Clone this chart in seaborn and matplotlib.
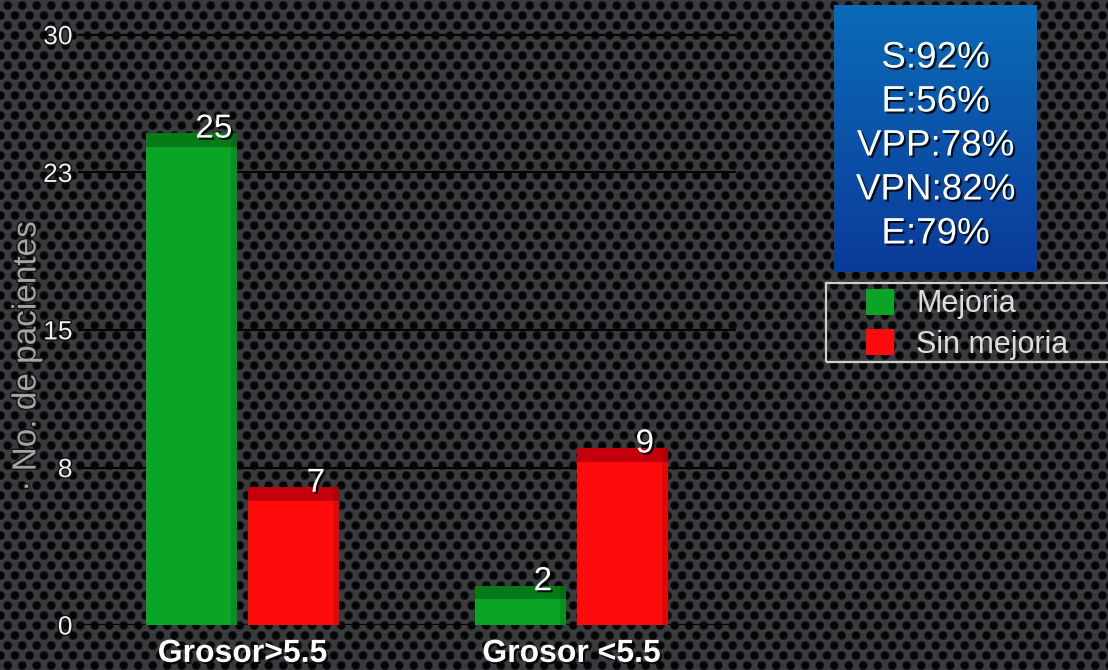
import numpy as np
import pandas as pd
import matplotlib
matplotlib.use("Agg")
import matplotlib.pyplot as plt
import matplotlib.patheffects as pe
from matplotlib.patches import Rectangle
import seaborn as sns

# ---- data -------------------------------------------------------------
categorias = ["Grosor>5.5", "Grosor <5.5"]
grupos = ["Mejoria", "Sin mejoria"]
mejoria = [25, 2]
sin_mejoria = [7, 9]
ticks_y = [0, 8, 15, 23, 30]
indicadores = ["S:92%", "E:56%", "VPP:78%", "VPN:82%", "E:79%"]

colores = {"Mejoria": "#0aa524", "Sin mejoria": "#ff0b0b"}
colores_tapa = {"Mejoria": "#077a18", "Sin mejoria": "#c4000c"}

df = pd.DataFrame({
    "grupo_grosor": categorias * 2,
    "evolucion": [grupos[0]] * len(categorias) + [grupos[1]] * len(categorias),
    "pacientes": mejoria + sin_mejoria,
})

sns.set_theme(style="dark")
plt.rcParams["font.family"] = ["Liberation Sans", "DejaVu Sans"]

W, H = 1108, 670
fig = plt.figure(figsize=(W / 100, H / 100), dpi=100)
fig.patch.set_facecolor("#2c2e32")

# ---- perforated metal backdrop ---------------------------------------
yy, xx = np.mgrid[0:H, 0:W].astype(float)
sx, sy = 14.5, 10.0
fila = np.floor(yy / sy)
cx = (xx - (fila % 2) * sx / 2) % sx - sx / 2
cy = yy % sy - sy / 2
dist = np.hypot(cx, cy)
mezcla = np.clip((dist - 3.3) / 1.8, 0, 1)
fondo = np.array([0.225, 0.232, 0.245])
hueco = np.array([0.02, 0.02, 0.025])
img = hueco[None, None, :] * (1 - mezcla[..., None]) + fondo[None, None, :] * mezcla[..., None]
fig.figimage(img, xo=0, yo=0, origin="upper", zorder=-10)

# ---- bars -------------------------------------------------------------
ax = fig.add_axes([78 / W, 1 - 625 / H, (736 - 78) / W, (625 - 15) / H])
ax.set_facecolor("none")
sns.barplot(data=df, x="grupo_grosor", y="pacientes", hue="evolucion",
            hue_order=grupos, order=categorias, palette=colores,
            width=0.62, gap=0.1, saturation=1, linewidth=0,
            edgecolor="none", ax=ax, zorder=3)

ax.set_xlim(-0.5, 1.5)
ax.set_ylim(0, 31)
ax.set_yticks(ticks_y)
ax.set_yticklabels([str(t) for t in ticks_y])
ax.yaxis.grid(True, color="#050505", linewidth=1.6)
ax.xaxis.grid(False)
ax.set_axisbelow(True)
for s in ax.spines.values():
    s.set_visible(False)
ax.tick_params(axis="both", length=0)
ax.tick_params(axis="y", pad=4, labelsize=19, labelcolor="#eeeeee")
ax.tick_params(axis="x", pad=10, labelsize=23, labelcolor="white")
for lab in ax.get_xticklabels():
    lab.set_fontweight("bold")
    lab.set_path_effects([pe.withSimplePatchShadow(offset=(1.5, -1.5), shadow_rgbFace="black", alpha=0.8)])
for lab in ax.get_yticklabels():
    lab.set_path_effects([pe.withStroke(linewidth=2, foreground="#111111")])
ax.set_xlabel("")
ax.set_ylabel("· No. de pacientes", fontsize=24, color="#a4a4a4")
ax.yaxis.set_label_coords(-0.054, 0.44)
ax.yaxis.label.set_path_effects([pe.withStroke(linewidth=2, foreground="#151515")])

sombra = [pe.withSimplePatchShadow(offset=(1.5, -1.5), shadow_rgbFace="black", alpha=0.9)]
for cont, grupo in zip(ax.containers, grupos):
    for barra, valor in zip(cont.patches, cont.datavalues):
        x0, w = barra.get_x(), barra.get_width()
        # darker top face for a raised look
        ax.add_patch(Rectangle((x0, valor - 0.7), w, 0.7, facecolor=colores_tapa[grupo],
                               edgecolor="none", zorder=4))
        ax.add_patch(Rectangle((x0 + w * 0.93, 0), w * 0.07, valor, facecolor="black",
                               alpha=0.12, edgecolor="none", zorder=4))
        ax.text(x0 + w / 2 + 0.068, valor + 0.2, f"{valor:g}", ha="center", va="center",
                fontsize=24, color="white", zorder=6, path_effects=sombra)

leg = ax.get_legend()
if leg is not None:
    leg.remove()

# ---- legend -----------------------------------------------------------
handles = [Rectangle((0, 0), 1, 1, facecolor=colores[g], edgecolor="none") for g in grupos]
legend = fig.legend(handles, grupos, loc="upper left",
                    bbox_to_anchor=(866 / W, 1 - 289 / H), bbox_transform=fig.transFigure,
                    frameon=False, fontsize=22, handlelength=0.92, handleheight=0.92,
                    handletextpad=0.72, labelspacing=0.32, borderpad=0.0,
                    borderaxespad=0.0)
for t in legend.get_texts():
    t.set_color("#dcdcdc")
fig.patches.append(Rectangle((826 / W, 1 - 362 / H), (W + 10 - 826) / W, 79 / H,
                             transform=fig.transFigure, fill=False,
                             edgecolor="#cfcfcf", linewidth=1.6, zorder=5))

# ---- indicator panel ----------------------------------------------------
panel = fig.add_axes([834 / W, 1 - 272 / H, 203 / W, 267 / H])
grad = np.linspace(0, 1, 256)[:, None]
top = np.array([0.04, 0.42, 0.72])
bot = np.array([0.04, 0.23, 0.60])
panel.imshow(top[None, None, :] * (1 - grad[..., None]) + bot[None, None, :] * grad[..., None],
             aspect="auto", extent=(0, 1, 0, 1), origin="upper")
panel.set_axis_off()
for i, linea in enumerate(indicadores):
    panel.text(0.5, 1 - (53 + 44 * i) / 267, linea, ha="center", va="center",
               fontsize=26.5, color="white", transform=panel.transAxes,
               path_effects=[pe.withSimplePatchShadow(offset=(1.5, -1.5),
                                                      shadow_rgbFace="black", alpha=0.8)])

fig.savefig("out.png", dpi=100)
